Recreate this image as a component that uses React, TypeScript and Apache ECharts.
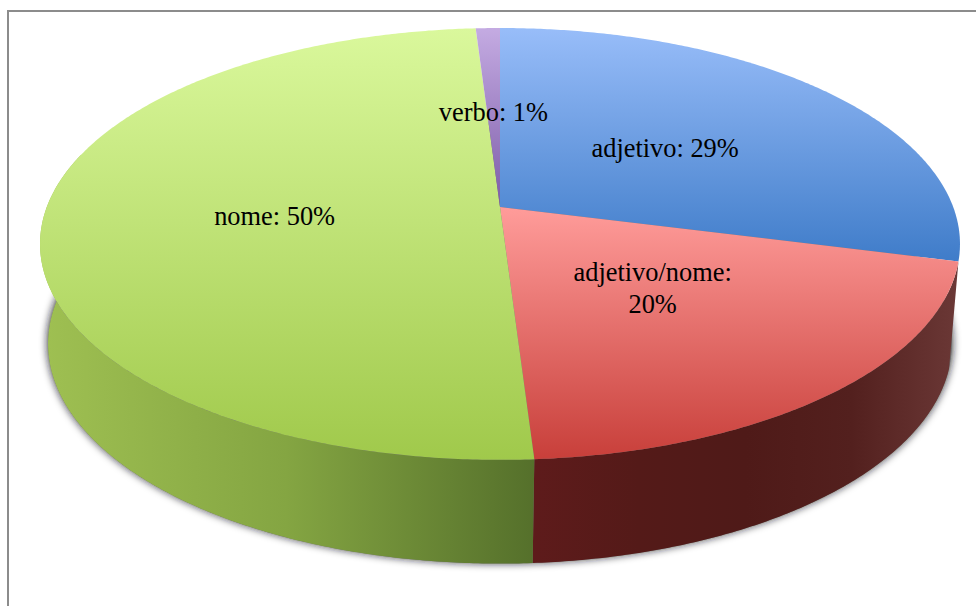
import React, { useEffect, useRef } from "react";
import * as echarts from "echarts";

// Share of each word class, in percent, clockwise from twelve o'clock.
const categories = ["adjetivo", "adjetivo/nome", "nome", "verbo"];
const shares = [29, 20, 50, 1];
const wrappedCategories = ["adjetivo/nome"];

// Face colours of each slice: top face (light to dark, vertical), wall (left to right).
const topColors = [
  ["#98BDF9", "#3F7CC9"],
  ["#FF9C9A", "#C83F3A"],
  ["#DAF89C", "#A0C94B"],
  ["#C4ABE2", "#7D5CA8"],
];
const wallColors = [
  ["#2A4E7E", "#2A4E7E"],
  ["#5E1B1B", "#541A18", "#4F1A18", "#53201E", "#6B3836"],
  ["#9FC052", "#84A542", "#55702B"],
  ["#4E3A6A", "#4E3A6A"],
];

// Fine adjustment of each label around its slice's middle radius.
const labelNudges = [
  [-5, 2],
  [-2, -5],
  [2, 2],
  [0, 2],
];

// Perspective view of a disc: rim points are projected through a homography.
type Disc = { cx: number; cy: number; a: number; b: number; k: number };
const topDisc: Disc = { cx: 500, cy: 207, a: 453.2, b: 209.6, k: 0.171 };
const baseDisc: Disc = { cx: 500, cy: 313, a: 447.5, b: 215.5, k: 0.14 };

function project(d: Disc, deg: number, r = 1): number[] {
  const t = (deg * Math.PI) / 180;
  const u = r * Math.sin(t);
  const v = r * Math.cos(t);
  const w = 1 + d.k * v;
  return [d.cx + (d.a * u) / w, d.cy - (d.b * v) / w];
}

function arc(d: Disc, from: number, to: number): number[][] {
  const pts: number[][] = [];
  const steps = Math.max(2, Math.ceil(Math.abs(to - from) * 2));
  for (let i = 0; i <= steps; i++) pts.push(project(d, from + ((to - from) * i) / steps));
  return pts;
}

const total = shares.reduce((s, v) => s + v, 0);
let running = 0;
const sliceData = shares.map((value, index) => {
  const start = running;
  running += value;
  return [index, start, value];
});

const sliceAngles = (api: any) => {
  const start = (api.value(1) / total) * 360;
  const sweep = (api.value(2) / total) * 360;
  return { start, end: start + sweep, mid: start + sweep / 2 };
};

const FRONT_FROM = 90;
const FRONT_TO = 285;

const option = {
  animation: false,
  backgroundColor: "#ffffff",
  graphic: [
    {
      type: "rect",
      silent: true,
      shape: { x: 8, y: 11, width: 1200, height: 900 },
      style: { fill: "none", stroke: "#8C8C8C", lineWidth: 2 },
    },
  ],
  series: [
    {
      // Soft shadow cast around the base of the disc.
      type: "custom",
      coordinateSystem: "none",
      silent: true,
      z: 1,
      data: [[0]],
      renderItem: () => ({
        type: "polygon",
        shape: { points: arc(baseDisc, 0, 360) },
        style: {
          fill: "#707070",
          shadowBlur: 9,
          shadowColor: "rgba(20,20,30,1)",
          shadowOffsetY: -1,
        },
      }),
    },
    {
      // Outer walls of the slices facing the viewer.
      type: "custom",
      coordinateSystem: "none",
      silent: true,
      z: 2,
      data: sliceData,
      renderItem: (_: any, api: any) => {
        const { start, end, mid } = sliceAngles(api);
        const from = Math.max(start, FRONT_FROM);
        const to = Math.min(end, FRONT_TO);
        if (Math.cos((mid * Math.PI) / 180) > 0 || to <= from) return null;
        const colors = wallColors[api.value(0)];
        const stops = colors.map((color, i) => ({ offset: i / (colors.length - 1), color }));
        return {
          type: "polygon",
          shape: { points: [...arc(topDisc, from, to), ...arc(baseDisc, to, from)] },
          style: { fill: new echarts.graphic.LinearGradient(0, 0, 1, 0, stops) },
        };
      },
    },
    {
      // Top faces, meeting at the projected centre of the disc.
      type: "custom",
      coordinateSystem: "none",
      silent: true,
      z: 3,
      data: sliceData,
      renderItem: (_: any, api: any) => {
        const { start, end } = sliceAngles(api);
        const [light, dark] = topColors[api.value(0)];
        return {
          type: "polygon",
          shape: { points: [[topDisc.cx, topDisc.cy], ...arc(topDisc, start, end)] },
          style: {
            fill: new echarts.graphic.LinearGradient(0, 0, 0, 1, [
              { offset: 0, color: light },
              { offset: 1, color: dark },
            ]),
          },
        };
      },
    },
    {
      // Value labels halfway along each slice's middle radius.
      type: "custom",
      coordinateSystem: "none",
      silent: true,
      z: 4,
      data: sliceData,
      renderItem: (_: any, api: any) => {
        const { mid } = sliceAngles(api);
        const [x, y] = project(topDisc, mid, 0.5);
        const index = api.value(0);
        const name = categories[index];
        const sep = wrappedCategories.includes(name) ? ":\n" : ": ";
        return {
          type: "text",
          style: {
            text: `${name}${sep}${api.value(2)}%`,
            x: x + labelNudges[index][0],
            y: y + labelNudges[index][1],
            fill: "#000000",
            align: "center",
            verticalAlign: "middle",
            font: '26.4px "Liberation Serif"',
            lineHeight: 32,
          },
        };
      },
    },
  ],
};

export default function App() {
  const ref = useRef<HTMLDivElement>(null);
  useEffect(() => {
    const chart = echarts.init(ref.current!, undefined, { renderer: "svg" });
    chart.setOption(option as any);
    return () => chart.dispose();
  }, []);
  return (
    <div
      ref={ref}
      style={{ position: "fixed", left: 0, top: 0, width: 976, height: 606 }}
    />
  );
}
